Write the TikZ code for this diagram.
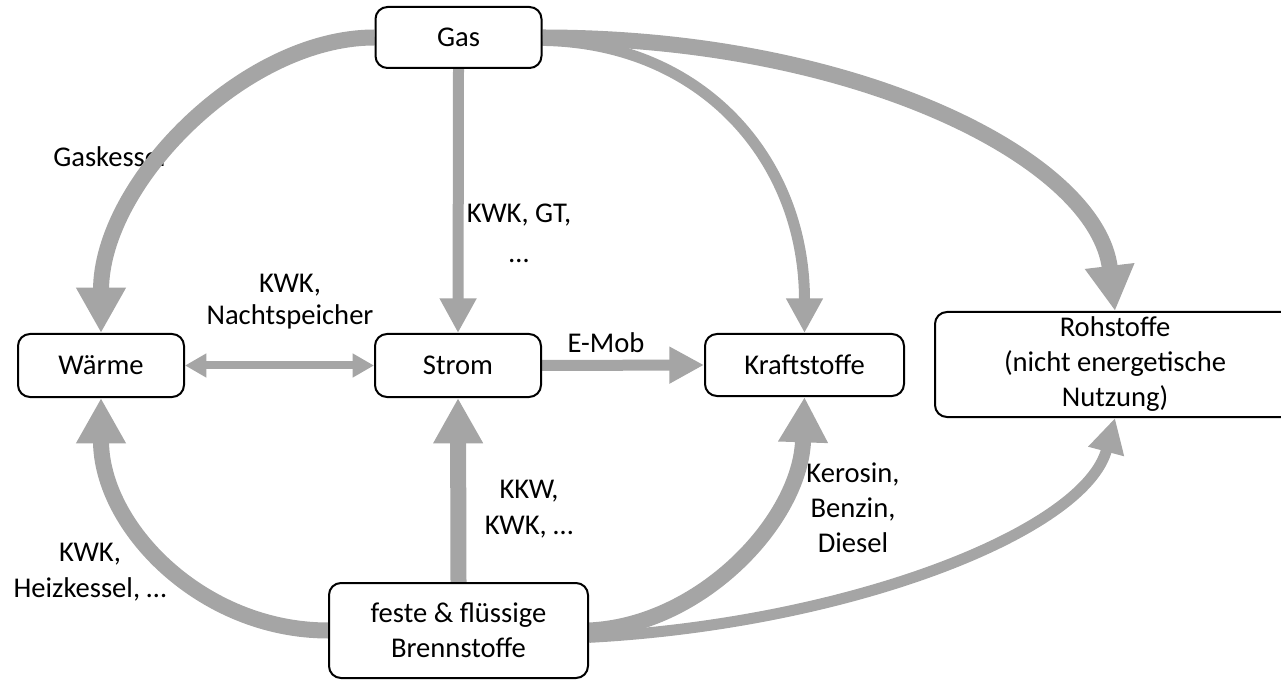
\documentclass[tikz,border=0pt]{standalone}
\usepackage{fontspec}
\setmainfont{Carlito}
\usetikzlibrary{arrows.meta,backgrounds}
\definecolor{arrowgray}{RGB}{165,165,165}
\begin{document}
\begin{tikzpicture}[x=0.75pt,y=-0.75pt,
  every node/.style={font=\fontsize{21.45pt}{26.25pt}\selectfont},
  box/.style={draw=black, line width=1.5pt, rounded corners=9pt, fill=white, align=center, inner sep=0pt},
  lbl/.style={align=center, inner sep=0pt},
  thickarrow/.style={draw=arrowgray, line width=12pt, -{Triangle[length=34pt,width=35pt]}},
  thinarrow/.style={draw=arrowgray, line width=8.25pt, -{Triangle[length=26pt,width=26pt]}},
  dblarrow/.style={draw=arrowgray, line width=6pt, {Triangle[length=16pt,width=17pt]}-{Triangle[length=16pt,width=17pt]}},
]
\useasboundingbox (0,0) rectangle (1281,691);
\clip (0,0) rectangle (1281,691);

% boxes
\node[box, minimum width=124.5pt, minimum height=45.75pt] (Gas) at (458.5,37.5) {Gas};
\node[box, minimum width=124.5pt, minimum height=47.25pt] (Waerme) at (101,365.5) {Wärme};
\node[box, minimum width=124.5pt, minimum height=47.25pt] (Strom) at (458,365.5) {Strom};
\node[box, minimum width=149.25pt, minimum height=46.5pt] (Kraft) at (804.5,365) {Kraftstoffe};
\node[box, minimum width=270pt, minimum height=78.75pt] (Roh) at (1115,364.5) {Rohstoffe\\(nicht energetische\\Nutzung)};
\node[box, minimum width=194.25pt, minimum height=71.25pt] (Brenn) at (458.5,630.5) {feste \& flüssige\\Brennstoffe};

% labels
\node[lbl] (lKWKGT) at (519,233) {KWK, GT,\\[3.75pt]…};
\node[lbl, font=\fontsize{21.45pt}{24pt}\selectfont] (lNacht) at (290,302) {KWK,\\Nachtspeicher};
\node[lbl] (lEMob) at (606,343) {E-Mob};
\node[lbl] (lKKW) at (529,509) {KKW,\\[1pt]KWK, …};
\node[lbl] (lHeiz) at (90,572) {KWK,\\[1pt]Heizkessel, …};
\node[lbl] (lKero) at (853,508) {Kerosin,\\Benzin,\\Diesel};

\begin{scope}[on background layer]
\node[lbl, anchor=base west] (lGask) at (53,167) {Gaskessel};
% thin arrows
\draw[thinarrow] (Gas.-2) .. controls +(159,2) and +(0,-174) .. (Kraft.north);
\draw[thinarrow] (Gas.south) -- (Strom.north);
\draw[thinarrow] (Strom.east) -- (Kraft.west);
\draw[thinarrow] (Brenn.-3) .. controls +(262,-14) and +(-30,113) .. (Roh.south);
% thick arrows
\draw[thickarrow] (Gas.west) .. controls +(-130,0) and +(0,-150) .. (Waerme.north);
\draw[thickarrow] (Gas.east) .. controls +(316,0) and +(-18,-151) .. (Roh.north);
\draw[thickarrow] (Brenn.west) .. controls +(-126,0) and +(0,129) .. (Waerme.south);
\draw[thickarrow] (Brenn.north) -- (Strom.south);
\draw[thickarrow] (Brenn.east) .. controls +(112,-5) and +(-4,123) .. (Kraft.south);
% double arrow
\draw[dblarrow] (Waerme.east) -- (Strom.west);
\end{scope}
\end{tikzpicture}
\end{document}
